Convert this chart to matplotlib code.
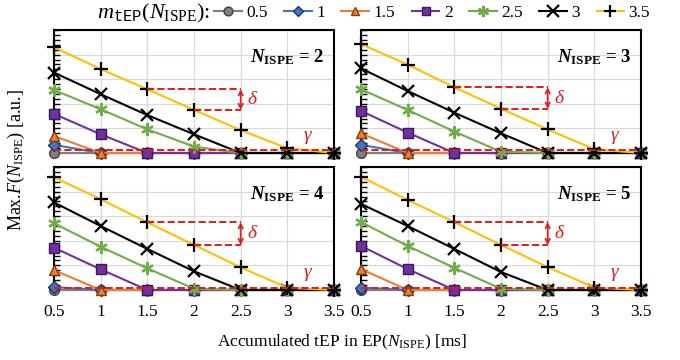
import matplotlib
matplotlib.use("Agg")
import matplotlib.pyplot as plt
from matplotlib.ticker import MultipleLocator

plt.rcParams['font.family'] = ['Liberation Serif', 'DejaVu Serif']
plt.rcParams['mathtext.fontset'] = 'custom'
plt.rcParams['mathtext.rm'] = 'Liberation Serif'
plt.rcParams['mathtext.it'] = 'Liberation Serif:italic'
plt.rcParams['mathtext.bf'] = 'Liberation Serif:bold'
plt.rcParams['mathtext.bfit'] = 'Liberation Serif:italic:bold'
plt.rcParams['mathtext.tt'] = 'Liberation Mono'

# accumulated tEP [ms]
x = [0.5, 1, 1.5, 2, 2.5, 3, 3.5]
x_ticklabels = ['0.5', '1', '1.5', '2', '2.5', '3', '3.5']
m_labels = ['0.5', '1', '1.5', '2', '2.5', '3', '3.5']
n_ispe = [2, 3, 4, 5]
gamma = [0.12, 0.12, 0.10, 0.10]

# Max F per panel, one list per m_tEP
n2 = [
    [0, 0, 0, 0, 0, 0, 0],
    [0.33, 0, 0, 0, 0, 0, 0],
    [0.69, 0, 0, 0, 0, 0, 0],
    [1.59, 0.76, 0, 0, 0, 0, 0],
    [2.56, 1.78, 0.96, 0.26, 0, 0, 0],
    [3.27, 2.39, 1.54, 0.76, 0, 0, 0],
    [4.30, 3.41, 2.59, 1.75, 0.93, 0.19, 0],
]
n3 = [
    [0, 0, 0, 0, 0, 0, 0],
    [0.33, 0, 0, 0, 0, 0, 0],
    [0.80, 0, 0, 0, 0, 0, 0],
    [1.71, 0.83, 0, 0, 0, 0, 0],
    [2.59, 1.75, 0.87, 0.05, 0, 0, 0],
    [3.44, 2.52, 1.64, 0.80, 0, 0, 0],
    [4.43, 3.59, 2.67, 1.80, 0.96, 0.15, 0],
]
n4 = [
    [0, 0, 0, 0, 0, 0, 0],
    [0.12, 0, 0, 0, 0, 0, 0],
    [0.81, 0, 0, 0, 0, 0, 0],
    [1.72, 0.84, 0, 0, 0, 0, 0],
    [2.71, 1.76, 0.88, 0.05, 0, 0, 0],
    [3.56, 2.60, 1.67, 0.76, 0, 0, 0],
    [4.58, 3.69, 2.75, 1.83, 0.92, 0.09, 0],
]
n5 = [
    [0, 0, 0, 0, 0, 0, 0],
    [0.10, 0, 0, 0, 0, 0, 0],
    [0.85, 0, 0, 0, 0, 0, 0],
    [1.79, 0.85, 0, 0, 0, 0, 0],
    [2.76, 1.79, 0.90, 0.05, 0, 0, 0],
    [3.50, 2.60, 1.67, 0.73, 0, 0, 0],
    [4.60, 3.66, 2.76, 1.83, 0.93, 0.10, 0],
]
panels = [n2, n3, n4, n5]

colors = ['#7f7f7f', '#4472c4', '#ed7d31', '#7030a0', '#70ad47', '#000000', '#ffc000']
markers = ['o', 'D', '^', 's', (6, 2, 0), 'x', '+']
mfc = ['#7f7f7f', '#4472c4', '#ed7d31', '#7030a0', '#70ad47', '#000000', '#000000']
mec = ['#404040', '#1f3864', '#843c0c', '#3a1a55', '#70ad47', '#000000', '#000000']
msize = [7, 6, 7, 7, 9, 9, 10]
red = '#dd1c1c'

fig = plt.figure(figsize=(6.8, 3.6), dpi=100)
W, H = 680, 360
boxes = [(54, 30), (361, 30), (54, 167), (361, 167)]
pw, ph = 280, 123

for k, (px, py) in enumerate(boxes):
    ax = fig.add_axes([px / W, 1 - (py + ph) / H, pw / W, ph / H])
    data = panels[k]
    for i in range(len(m_labels)):
        ax.plot(x, data[i], color=colors[i], lw=1.5, marker=markers[i],
                ms=msize[i], mfc=mfc[i], mec=mec[i], mew=1.0 if i < 4 else 1.6,
                clip_on=False, zorder=3 + i, label=m_labels[i])
    ax.set_xlim(0.5, 3.5)
    ax.set_ylim(0, 5)
    ax.set_xticks(x)
    ax.yaxis.set_major_locator(MultipleLocator(1))
    ax.yaxis.set_minor_locator(MultipleLocator(0.2))
    ax.grid(True, color='#d9d9d9', lw=0.9, zorder=0)
    ax.set_axisbelow(True)
    ax.tick_params(axis='x', length=0, labelsize=12.5, pad=10)
    ax.tick_params(axis='y', which='both', direction='in', length=4, width=1,
                   labelleft=False)
    if k < 2:
        ax.set_xticklabels([])
    else:
        ax.set_xticklabels(x_ticklabels)
    for s in ax.spines.values():
        s.set_linewidth(1.5)
        s.set_color('black')

    # delta annotation on the 3.5 curve
    top = data[6]
    y15, y20 = top[2], top[3]
    ax.plot([1.5, 2.5], [y15, y15], color=red, lw=1.4, ls='--', zorder=12)
    ax.plot([2.0, 2.5], [y20, y20], color=red, lw=1.4, ls='--', zorder=12)
    ax.annotate('', xy=(2.5, y20), xytext=(2.5, y15),
                arrowprops=dict(arrowstyle='<->', color=red, lw=1.2,
                                shrinkA=0, shrinkB=0, mutation_scale=8),
                zorder=12)
    ax.text(2.57, (y15 + y20) / 2, r'$\delta$', color=red, fontsize=14,
            ha='left', va='center')
    # gamma line
    ax.plot([0.5, 3.5], [gamma[k], gamma[k]], color=red, lw=1.4, ls='--',
            zorder=12, clip_on=False)
    ax.text(3.22, gamma[k] + 0.18, r'$\gamma$', color=red, fontsize=14,
            ha='center', va='bottom')
    ax.text(0.965, 0.78, r'$\mathbfit{N}_{\mathbf{ISPE}}$' + ' = %d' % n_ispe[k],
            transform=ax.transAxes, ha='right', va='center', fontsize=13.5,
            fontweight='bold', zorder=20)
    if k == 0:
        handles, labels = ax.get_legend_handles_labels()

fig.text(210 / W, 1 - 13 / H, r'$m_{\mathtt{tEP}}(N_{\mathrm{ISPE}})$:',
         ha='right', va='center', fontsize=16)
fig.legend(handles, labels, loc='center left', bbox_to_anchor=(214 / W, 1 - 13 / H),
           ncol=7, frameon=False, fontsize=12.5, handlelength=1.6,
           handletextpad=0.25, columnspacing=0.95, borderaxespad=0, borderpad=0,
           markerscale=0.9)

fig.text(342 / W, 1 - 342 / H, r'Accumulated tEP in EP($N_{\mathrm{ISPE}}$) [ms]',
         ha='center', va='center', fontsize=12.5)
fig.text(16 / W, 1 - 160 / H, r'Max.$F$($N_{\mathrm{ISPE}}$) [a.u.]',
         ha='center', va='center', rotation=90, fontsize=13)

fig.savefig('out.png', dpi=100)
